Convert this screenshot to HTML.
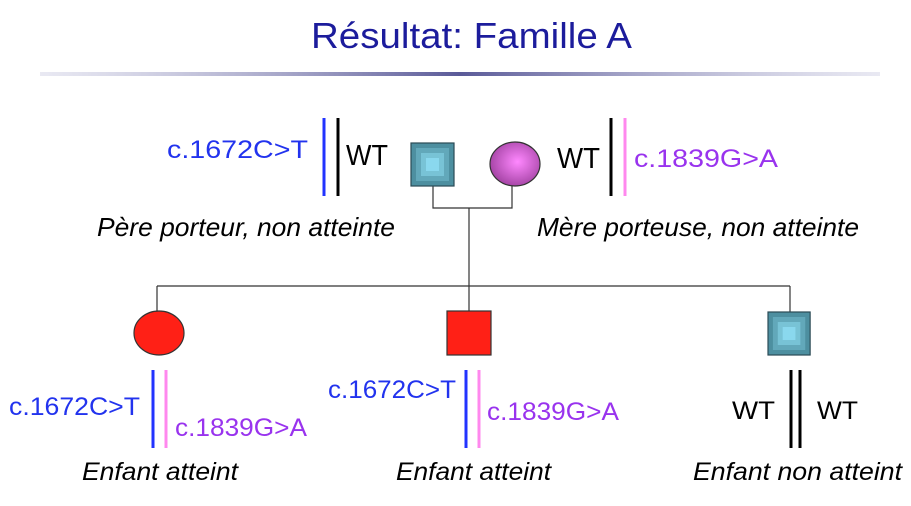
<!DOCTYPE html>
<html><head><meta charset="utf-8"><style>
html,body{margin:0;padding:0;background:#fff;}
svg{display:block;font-family:"Liberation Sans",sans-serif;}
</style></head><body>
<svg width="911" height="506" viewBox="0 0 911 506" xmlns="http://www.w3.org/2000/svg">
<defs>
<linearGradient id="rule" x1="0" x2="1" y1="0" y2="0">
<stop offset="0" stop-color="#c8c8e0" stop-opacity="0.4"/>
<stop offset="0.5" stop-color="#5a5a98"/>
<stop offset="1" stop-color="#c8c8e0" stop-opacity="0.4"/>
</linearGradient>
<radialGradient id="pink" cx="0.55" cy="0.45" r="0.6">
<stop offset="0" stop-color="#ff88ff"/>
<stop offset="1" stop-color="#a040a0"/>
</radialGradient>
<g id="bsq">
<rect x="0" y="0" width="43" height="43" fill="#4d8fa0" stroke="#2a4a55" stroke-width="1.2"/>
<rect x="5" y="5" width="33" height="33" fill="#62a8ba"/>
<rect x="10" y="10" width="23" height="23" fill="#78c3d6"/>
<rect x="15" y="15" width="13" height="13" fill="#8ad8ee"/>
</g>
</defs>
<text x="311" y="48" font-size="36" fill="#1c1c9c" textLength="321" lengthAdjust="spacingAndGlyphs">Résultat: Famille A</text>
<rect x="40" y="72" width="840" height="4" fill="url(#rule)"/>

<g stroke="#333" stroke-width="1.2" fill="none">
<polyline points="433,186 433,208 512,208 512,186"/>
<line x1="469" y1="208" x2="469" y2="286"/>
<line x1="157" y1="286" x2="790" y2="286"/>
<line x1="157" y1="286" x2="157" y2="312"/>
<line x1="469" y1="286" x2="469" y2="311"/>
<line x1="790" y1="286" x2="790" y2="312"/>
</g>

<use href="#bsq" x="411" y="143"/>
<ellipse cx="515" cy="164" rx="25" ry="22" fill="url(#pink)" stroke="#333" stroke-width="1.2"/>

<ellipse cx="159" cy="333" rx="25" ry="22" fill="#ff2016" stroke="#333" stroke-width="1.2"/>
<rect x="447" y="311" width="44" height="44" fill="#ff2016" stroke="#333" stroke-width="1.2"/>
<use href="#bsq" transform="translate(768,312) scale(0.98,1)"/>

<g font-size="25">
<!-- father -->
<line x1="324" y1="118" x2="324" y2="196" stroke="#2233ff" stroke-width="3"/>
<line x1="338" y1="118" x2="338" y2="196" stroke="#000" stroke-width="3"/>
<text x="167" y="158" fill="#2233ee" textLength="141" lengthAdjust="spacingAndGlyphs">c.1672C&gt;T</text>
<text x="346" y="165" font-size="29" fill="#000" textLength="42" lengthAdjust="spacingAndGlyphs">WT</text>
<!-- mother -->
<line x1="611" y1="118" x2="611" y2="196" stroke="#000" stroke-width="3"/>
<line x1="625" y1="118" x2="625" y2="196" stroke="#ff88ee" stroke-width="3"/>
<text x="557" y="168" font-size="29" fill="#000" textLength="43" lengthAdjust="spacingAndGlyphs">WT</text>
<text x="634" y="167" fill="#9933ee" textLength="144" lengthAdjust="spacingAndGlyphs">c.1839G&gt;A</text>

<text x="97" y="236" font-size="26" font-style="italic" fill="#000" textLength="298" lengthAdjust="spacingAndGlyphs">Père porteur, non atteinte</text>
<text x="537" y="236" font-size="26" font-style="italic" fill="#000" textLength="322" lengthAdjust="spacingAndGlyphs">Mère porteuse, non atteinte</text>

<!-- child1 -->
<line x1="153" y1="370" x2="153" y2="448" stroke="#2233ff" stroke-width="3"/>
<line x1="166" y1="370" x2="166" y2="448" stroke="#ff88ee" stroke-width="3"/>
<text x="9" y="415" fill="#2233ee" textLength="131" lengthAdjust="spacingAndGlyphs">c.1672C&gt;T</text>
<text x="175" y="436" fill="#9933ee" textLength="132" lengthAdjust="spacingAndGlyphs">c.1839G&gt;A</text>
<!-- child2 -->
<line x1="466" y1="370" x2="466" y2="448" stroke="#2233ff" stroke-width="3"/>
<line x1="479" y1="370" x2="479" y2="448" stroke="#ff88ee" stroke-width="3"/>
<text x="328" y="398" fill="#2233ee" textLength="128" lengthAdjust="spacingAndGlyphs">c.1672C&gt;T</text>
<text x="487" y="420" fill="#9933ee" textLength="132" lengthAdjust="spacingAndGlyphs">c.1839G&gt;A</text>
<!-- child3 -->
<line x1="791" y1="370" x2="791" y2="448" stroke="#000" stroke-width="3"/>
<line x1="800" y1="370" x2="800" y2="448" stroke="#000" stroke-width="3"/>
<text x="732" y="419" fill="#000" textLength="43" lengthAdjust="spacingAndGlyphs">WT</text>
<text x="817" y="419" fill="#000" textLength="41" lengthAdjust="spacingAndGlyphs">WT</text>

<text x="82" y="480" font-style="italic" fill="#000" textLength="156" lengthAdjust="spacingAndGlyphs">Enfant atteint</text>
<text x="396" y="480" font-style="italic" fill="#000" textLength="155" lengthAdjust="spacingAndGlyphs">Enfant atteint</text>
<text x="693" y="480" font-style="italic" fill="#000" textLength="209" lengthAdjust="spacingAndGlyphs">Enfant non atteint</text>
</g>
</svg>
</body></html>
